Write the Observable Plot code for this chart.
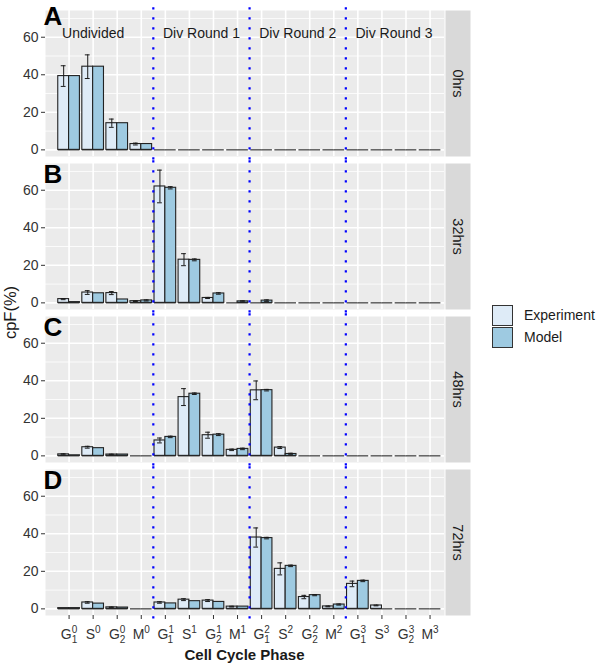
<!DOCTYPE html>
<html>
<head>
<meta charset="utf-8">
<script src="https://cdn.jsdelivr.net/npm/d3@7"></script>
<script src="https://cdn.jsdelivr.net/npm/@observablehq/plot@0.6"></script>
<style>
  body { margin: 0; background: #fff; font-family: "Liberation Sans", Arial, sans-serif; }
  #wrap { position: relative; width: 600px; height: 666px; }
  .legend { position: absolute; left: 492px; top: 304px; font-size: 14px; color: #1a1a1a; }
  .legend .row { display: flex; align-items: center; height: 22px; }
  .legend .sw { width: 21px; height: 21px; border: 1px solid #333; box-sizing: border-box; }
  .legend .lab { margin-left: 11px; }
</style>
</head>
<body>
<div id="wrap"></div>
<script>
// ---------- data ----------
const times = ["0hrs", "32hrs", "48hrs", "72hrs"];
const panelLetters = ["A", "B", "C", "D"];
const series = ["Experiment", "Model"];
const seriesColors = ["#deebf7", "#9ecae1"];
const tickLabels = ["G_1^0","S^0","G_2^0","M^0","G_1^1","S^1","G_2^1","M^1",
                    "G_1^2","S^2","G_2^2","M^2","G_1^3","S^3","G_2^3","M^3"];
const roundLabels = ["Undivided", "Div Round 1", "Div Round 2", "Div Round 3"];
const roundLabelPos = [2, 6.5, 10.5, 14.5];
const roundBoundaries = [4.5, 8.5, 12.5];

const exp0    = [39.3, 44.3, 14.2, 3.1, 0, 0, 0, 0, 0, 0, 0, 0, 0, 0, 0, 0];
const exp0Err = [5.5, 6.3, 2.2, 0.5, 0, 0, 0, 0, 0, 0, 0, 0, 0, 0, 0, 0];
const mod0    = [39.3, 44.3, 14.2, 3.1, 0, 0, 0, 0, 0, 0, 0, 0, 0, 0, 0, 0];
const mod0Err = [0, 0, 0, 0, 0, 0, 0, 0, 0, 0, 0, 0, 0, 0, 0, 0];

const exp32    = [2.0, 5.5, 5.2, 0.9, 62.0, 23.0, 2.6, 0, 0, 0, 0, 0, 0, 0, 0, 0];
const exp32Err = [0.3, 1.0, 0.8, 0.2, 8.7, 3.2, 0.3, 0, 0, 0, 0, 0, 0, 0, 0, 0];
const mod32    = [0.4, 5.1, 1.8, 1.3, 61.3, 22.9, 5.0, 0.8, 1.2, 0, 0, 0, 0, 0, 0, 0];
const mod32Err = [0, 0, 0, 0.3, 0.6, 0.5, 0.4, 0.3, 0.4, 0, 0, 0, 0, 0, 0, 0];

const exp48    = [0.8, 4.6, 0.7, 0, 8.2, 31.3, 11.0, 3.2, 34.9, 4.4, 0, 0, 0, 0, 0, 0];
const exp48Err = [0.3, 0.5, 0.2, 0, 1.3, 4.5, 1.6, 0.4, 5.0, 0.5, 0, 0, 0, 0, 0, 0];
const mod48    = [0.3, 4.1, 0.7, 0, 10.1, 33.1, 11.3, 3.7, 35.0, 1.0, 0, 0, 0, 0, 0, 0];
const mod48Err = [0, 0, 0, 0, 0.4, 0.4, 0.5, 0.4, 0.4, 0.4, 0, 0, 0, 0, 0, 0];

const exp72    = [0.4, 3.4, 0.8, 0, 3.4, 4.9, 4.4, 1.2, 38.0, 21.3, 6.3, 1.3, 13.3, 1.8, 0, 0];
const exp72Err = [0, 0.4, 0.2, 0, 0.4, 0.5, 0.5, 0.2, 5.1, 3.2, 0.9, 0.2, 1.5, 0.2, 0, 0];
const mod72    = [0.4, 2.8, 0.7, 0, 2.9, 4.1, 3.7, 1.2, 37.7, 22.9, 7.3, 2.3, 14.9, 0, 0, 0];
const mod72Err = [0, 0, 0, 0, 0, 0, 0, 0, 0.4, 0.4, 0.3, 0.3, 0.4, 0, 0, 0];

// ---------- build table ----------
const expByTime = [exp0, exp32, exp48, exp72];
const expErrByTime = [exp0Err, exp32Err, exp48Err, exp72Err];
const modByTime = [mod0, mod32, mod48, mod72];
const modErrByTime = [mod0Err, mod32Err, mod48Err, mod72Err];
const positions = tickLabels.map((_, i) => i + 1);
const dodge = 0.45;

const rows = [];
times.forEach((t, ti) => {
  [[expByTime[ti], expErrByTime[ti]], [modByTime[ti], modErrByTime[ti]]].forEach(([vals, errs], si) => {
    vals.forEach((v, i) => {
      const x1 = positions[i] - dodge + si * dodge;
      rows.push({time: t, series: series[si], pos: positions[i], x1, x2: x1 + dodge,
                 xc: x1 + dodge / 2, value: v, err: errs[i]});
    });
  });
});
const errRows = rows.filter(d => d.err > 0);
const yMax = d3.max(rows, d => d.value + d.err);
const yDomain = [-0.05 * yMax, 1.05 * yMax];
const ext = 0.024 * (yDomain[1] - yDomain[0]);

const letterRows = times.map((t, i) => ({time: t, letter: panelLetters[i]}));
const roundRows = roundLabels.map((l, i) => ({time: times[0], label: l, x: roundLabelPos[i], y: 62}));

const ink = "#1a1a1a";

const chart = Plot.plot({
  width: 600,
  height: 666,
  marginTop: 10,
  marginBottom: 51,
  marginLeft: 45,
  marginRight: 156,
  style: {fontFamily: "'Liberation Sans', Arial, sans-serif", background: "#fff", overflow: "visible"},
  x: {type: "linear", domain: [0.02, 16.6]},
  y: {domain: yDomain},
  fy: {domain: times, paddingInner: 0.046, paddingOuter: 0, axis: null},
  color: {domain: series, range: seriesColors},
  marks: [
    Plot.frame({fill: "#ebebeb", stroke: "none"}),
    Plot.frame({fill: "#d9d9d9", stroke: "none", insetLeft: 400, insetRight: -26}),
    Plot.gridY([10, 30, 50, 70], {stroke: "#fff", strokeOpacity: 1, strokeWidth: 0.8}),
    Plot.gridY([0, 20, 40, 60], {stroke: "#fff", strokeOpacity: 1, strokeWidth: 1.6}),
    Plot.gridX(positions, {stroke: "#fff", strokeOpacity: 1, strokeWidth: 1.6}),
    Plot.rect(rows, {x1: "x1", x2: "x2", y1: 0, y2: "value", fy: "time", fill: "series",
                     stroke: "#222", strokeWidth: 1.1}),
    Plot.ruleY(rows, {y: 0, x1: "x1", x2: "x2", fy: "time", stroke: "#222", strokeWidth: 1.1}),
    Plot.ruleX(errRows, {x: "xc", y1: d => d.value - d.err, y2: d => d.value + d.err, fy: "time",
                         stroke: ink, strokeWidth: 1}),
    Plot.ruleY(errRows, {y: d => d.value + d.err, x1: d => d.xc - 0.1, x2: d => d.xc + 0.1, fy: "time",
                         stroke: ink, strokeWidth: 1}),
    Plot.ruleY(errRows, {y: d => d.value - d.err, x1: d => d.xc - 0.1, x2: d => d.xc + 0.1, fy: "time",
                         stroke: ink, strokeWidth: 1}),
    Plot.ruleX(roundBoundaries, {x: d => d, y1: yDomain[0] - ext, y2: yDomain[1] + ext,
                                 stroke: "#0000ff", strokeWidth: 2.2, strokeDasharray: "2.2,7.8"}),
    Plot.text(roundRows, {x: "x", y: "y", fy: "time", text: "label", fontSize: 14, fill: ink}),
    Plot.text(letterRows.slice(0, 1), {fy: "time", text: "letter", frameAnchor: "top-left",
      textAnchor: "start", lineAnchor: "top", fontSize: 26, fontWeight: "bold", fill: "#000", dx: -2, dy: -4}),
    Plot.text(letterRows.slice(1), {fy: "time", text: "letter", frameAnchor: "top-left",
      textAnchor: "start", lineAnchor: "top", fontSize: 26, fontWeight: "bold", fill: "#000", dx: -2, dy: 1}),
    Plot.text(times, {fy: d => d, text: d => d, frameAnchor: "right", dx: 13.5, rotate: 90,
      textAnchor: "middle", lineAnchor: "middle", fontSize: 14.5, fill: ink}),
    Plot.axisY({ticks: [0, 20, 40, 60], tickSize: 4, tickPadding: 3, fontSize: 14, label: null,
                color: "#333"}),
    Plot.axisX({ticks: positions, tickFormat: d => tickLabels[d - 1], tickSize: 4, tickPadding: 10,
                fontSize: 14, label: null, color: "#333"})
  ]
});

const svg = d3.select(chart.tagName.toLowerCase() === "svg" ? chart : chart.querySelector("svg"));

// sub/superscript tick labels
svg.selectAll('g[aria-label="x-axis tick label"] text').each(function() {
  const s = this.textContent;
  const m = s.match(/^([A-Z])(?:_(\d))?\^(\d)$/);
  if (!m) return;
  const el = d3.select(this);
  el.text(null);
  el.append("tspan").text(m[1]);
  el.append("tspan").attr("font-size", 10).attr("dy", -6).text(m[3]);
  if (m[2]) el.append("tspan").attr("font-size", 10).attr("dx", -5.6).attr("dy", 10).text(m[2]);
});

// axis titles
svg.append("text")
  .attr("transform", "translate(15.5,312.5) rotate(-90)")
  .attr("text-anchor", "middle")
  .attr("font-size", 16.5)
  .attr("fill", ink)
  .text("cpF(%)");
svg.append("text")
  .attr("x", 244.5).attr("y", 660)
  .attr("text-anchor", "middle")
  .attr("font-size", 15)
  .attr("font-weight", "bold")
  .attr("fill", ink)
  .text("Cell Cycle Phase");

const wrap = document.getElementById("wrap");
wrap.appendChild(chart);

// legend
const legend = document.createElement("div");
legend.className = "legend";
series.forEach((s, i) => {
  const row = document.createElement("div");
  row.className = "row";
  const sw = document.createElement("div");
  sw.className = "sw";
  sw.style.background = seriesColors[i];
  const lab = document.createElement("span");
  lab.className = "lab";
  lab.textContent = s;
  row.appendChild(sw);
  row.appendChild(lab);
  legend.appendChild(row);
});
wrap.appendChild(legend);
</script>
</body>
</html>
